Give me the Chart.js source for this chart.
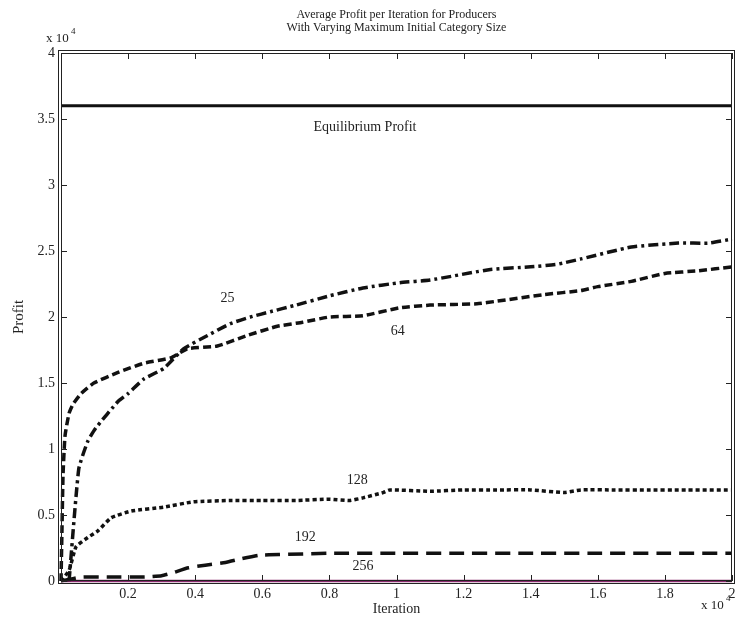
<!DOCTYPE html>
<html>
<head>
<meta charset="utf-8">
<script src="https://cdn.jsdelivr.net/npm/chart.js@4/dist/chart.umd.min.js"></script>
<style>
  html, body { margin: 0; padding: 0; background: #fff; }
  #wrap { width: 735px; height: 625px; position: relative; }
</style>
</head>
<body>
<div id="wrap"><canvas id="chart"></canvas></div>
<script>
const titleLines = ['Average Profit per Iteration for Producers', 'With Varying Maximum Initial Category Size'];

const xTicks = [0, 2000, 4000, 6000, 8000, 10000, 12000, 14000, 16000, 18000, 20000];
const yTicks = [0, 5000, 10000, 15000, 20000, 25000, 30000, 35000, 40000];

// equilibrium reference
const eqIter = [0, 20000];
const eqProfit = [36000, 36000];

// max initial category size 25
const iter25 = [240, 530, 800, 1040, 1700, 2000, 2470, 3060, 3660, 4370, 5050, 5650, 6240, 7000, 8000, 9000, 10100, 11000, 12800, 14000, 14800, 15500, 17000, 18400, 19300, 20000];
const profit25 = [0, 8500, 10600, 11600, 13600, 14200, 15300, 16100, 17600, 18600, 19500, 20000, 20400, 20900, 21600, 22200, 22600, 22800, 23600, 23800, 24000, 24400, 25300, 25600, 25600, 25900];

// 64
const iter64 = [0, 30, 60, 120, 240, 360, 600, 980, 1700, 2470, 3270, 3770, 4660, 5550, 6450, 7200, 8000, 9000, 10100, 11000, 12400, 13000, 14400, 15500, 16000, 17000, 18000, 19000, 20000];
const profit64 = [0, 4000, 8000, 11000, 12700, 13400, 14200, 15000, 15800, 16500, 16900, 17600, 17800, 18600, 19300, 19600, 20000, 20100, 20700, 20900, 21000, 21200, 21700, 22000, 22300, 22700, 23300, 23500, 23800];

// 128
const iter128 = [0, 240, 450, 800, 1100, 1500, 2100, 3060, 3950, 5050, 6000, 7000, 8000, 8600, 9000, 9600, 9800, 11000, 12000, 13000, 14000, 15000, 15500, 16500, 17500, 18500, 20000];
const profit128 = [0, 800, 2600, 3300, 3800, 4800, 5300, 5600, 6000, 6100, 6100, 6100, 6200, 6100, 6300, 6700, 6900, 6800, 6900, 6900, 6900, 6700, 6900, 6900, 6900, 6900, 6900];

// 192
const iter192 = [0, 600, 1500, 2500, 3000, 3300, 3800, 4300, 4900, 5400, 5900, 6500, 8000, 10000, 12000, 14000, 16000, 18000, 20000];
const profit192 = [0, 300, 300, 300, 400, 600, 1000, 1200, 1400, 1700, 1950, 2000, 2100, 2100, 2100, 2100, 2100, 2100, 2100];

// 256
const iter256 = [0, 20000];
const profit256 = [0, 0];

// text notes on the plot
const noteText = ['Equilibrium Profit', '25', '64', '128', '192', '256'];
const noteIter = [9060, 4960, 10040, 8830, 7280, 9000];
const noteProfit = [34400, 21400, 18900, 7600, 3300, 1100];

const serif = '"Liberation Serif", "Times New Roman", serif';
const ink = '#222222';

function zip(xs, ys) {
  return xs.map((x, i) => ({x: x, y: ys[i]}));
}

function lineSet(label, xs, ys, color, width, dash) {
  return {
    label: label,
    data: zip(xs, ys),
    borderColor: color,
    backgroundColor: color,
    borderWidth: width,
    borderDash: dash,
    borderCapStyle: 'butt',
    pointRadius: 0,
    tension: 0.15,
    clip: 4,
  };
}

const frame = {
  id: 'frame',
  afterDraw(chart) {
    const ctx = chart.ctx;
    const a = chart.chartArea;
    const xs = chart.scales.x;
    const ys = chart.scales.y;
    ctx.save();
    ctx.strokeStyle = ink;
    ctx.lineWidth = 1;
    // double box
    ctx.strokeRect(a.left + 0.5, a.top + 0.5, a.right - a.left - 1, a.bottom - a.top - 1);
    ctx.strokeRect(a.left - 2.5, a.top - 2.5, a.right - a.left + 5, a.bottom - a.top + 5);
    // inward ticks
    ctx.beginPath();
    xTicks.forEach(v => {
      const px = Math.round(xs.getPixelForValue(v)) + 0.5;
      ctx.moveTo(px, a.bottom); ctx.lineTo(px, a.bottom - 6);
      ctx.moveTo(px, a.top); ctx.lineTo(px, a.top + 6);
    });
    yTicks.forEach(v => {
      const py = Math.round(ys.getPixelForValue(v)) + 0.5;
      ctx.moveTo(a.left, py); ctx.lineTo(a.left + 6, py);
      ctx.moveTo(a.right, py); ctx.lineTo(a.right - 6, py);
    });
    ctx.stroke();

    ctx.fillStyle = ink;
    // title
    ctx.font = '12px ' + serif;
    ctx.textAlign = 'center';
    ctx.textBaseline = 'middle';
    const cx = (a.left + a.right) / 2;
    ctx.fillText(titleLines[0], cx, 15);
    ctx.fillText(titleLines[1], cx, 28);

    // notes
    ctx.font = '14px ' + serif;
    noteText.forEach((t, i) => {
      ctx.fillText(t, xs.getPixelForValue(noteIter[i]), ys.getPixelForValue(noteProfit[i]));
    });

    // exponent labels
    ctx.textAlign = 'left';
    ctx.font = '13px ' + serif;
    ctx.fillText('x 10', a.left - 15, 39);
    ctx.fillText('x 10', a.right - 31, 606);
    ctx.font = '9px ' + serif;
    ctx.fillText('4', a.left + 10, 32);
    ctx.fillText('4', a.right - 6, 599);
    ctx.restore();
  }
};

new Chart(document.getElementById('chart'), {
  type: 'line',
  data: {
    datasets: [
      lineSet('Equilibrium', eqIter, eqProfit, '#111111', 3, []),
      lineSet('25', iter25, profit25, '#111111', 3.5, [10, 4, 3, 4]),
      lineSet('64', iter64, profit64, '#111111', 3.5, [8, 4]),
      lineSet('128', iter128, profit128, '#111111', 3.5, [4, 3]),
      lineSet('192', iter192, profit192, '#111111', 3.5, [15, 8]),
      lineSet('256', iter256, profit256, '#8a2a6e', 2.5, []),
    ]
  },
  options: {
    responsive: true,
    maintainAspectRatio: false,
    animation: false,
    layout: {padding: {top: 53, right: 3, left: 0, bottom: 0}},
    plugins: {
      legend: {display: false},
      title: {display: false},
      tooltip: {enabled: false}
    },
    scales: {
      x: {
        type: 'linear',
        min: 0,
        max: 20000,
        afterFit: (s) => { s.height = 44; s.paddingLeft = 0; s.paddingRight = 0; },
        afterBuildTicks: (s) => { s.ticks = xTicks.map(v => ({value: v})); },
        grid: {display: false, drawTicks: false},
        border: {display: false},
        ticks: {
          color: ink,
          font: {family: serif, size: 14},
          padding: 5,
          maxRotation: 0,
          callback: (v) => v === 0 ? '' : String(v / 10000)
        },
        title: {
          display: true,
          text: 'Iteration',
          color: ink,
          font: {family: serif, size: 14},
          padding: {top: 0, bottom: 7}
        }
      },
      y: {
        min: 0,
        max: 40000,
        afterFit: (s) => { s.width = 61; s.paddingTop = 0; s.paddingBottom = 0; },
        afterBuildTicks: (s) => { s.ticks = yTicks.map(v => ({value: v})); },
        grid: {display: false, drawTicks: false},
        border: {display: false},
        ticks: {
          color: ink,
          font: {family: serif, size: 14},
          padding: 6,
          callback: (v) => String(v / 10000)
        },
        title: {
          display: true,
          text: 'Profit',
          color: ink,
          font: {family: serif, size: 15},
          padding: {top: 10, bottom: 0}
        }
      }
    }
  },
  plugins: [frame]
});
</script>
</body>
</html>
